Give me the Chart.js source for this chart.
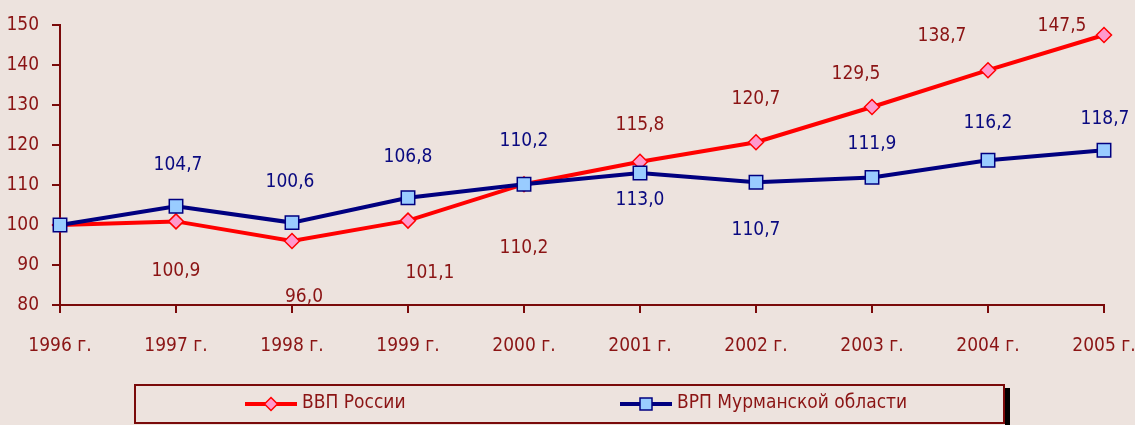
<!DOCTYPE html>
<html>
<head>
<meta charset="utf-8">
<script src="https://cdn.jsdelivr.net/npm/chart.js@4"></script>
<style>
  html, body { margin: 0; padding: 0; background: #ede3de; }
  #wrap { position: relative; width: 1135px; height: 425px; }
</style>
</head>
<body>
<div id="wrap"><canvas id="chart" width="1135" height="425"></canvas></div>
<script>
const years = ['1996 г.', '1997 г.', '1998 г.', '1999 г.', '2000 г.', '2001 г.', '2002 г.', '2003 г.', '2004 г.', '2005 г.'];
const russia = [100, 100.9, 96.0, 101.1, 110.2, 115.8, 120.7, 129.5, 138.7, 147.5];
const murmansk = [100, 104.7, 100.6, 106.8, 110.2, 113.0, 110.7, 111.9, 116.2, 118.7];
const russiaName = 'ВВП России';
const murmanskName = 'ВРП Мурманской области';

// label placement relative to the point (px)
const russiaLabelDx = [0, 0, 12, 22, 0, 0, 0, -16, -46, -42];
const russiaLabelDy = [0, 50, 56, 52, 64, -37, -43, -33, -34, -9];
const murmanskLabelDx = [0, 2, -2, 0, 0, 0, 0, 0, 0, 1];
const murmanskLabelDy = [0, -41, -41, -41, -43, 27, 48, -33, -37, -31];

const FONT = "'Liberation Sans Narrow', 'Arial Narrow', 'DejaVu Sans Condensed', sans-serif";
const DARKRED = '#8b1414';
const AXIS = '#7a0a0a';
const NAVY = '#0a0a80';

const labelsPlugin = {
    id: 'pointLabels',
    afterDatasetsDraw (chart) {
        const ctx = chart.ctx;
        ctx.save();
        ctx.font = '19px ' + FONT;
        ctx.textAlign = 'center';
        ctx.textBaseline = 'middle';
        chart.data.datasets.forEach((ds, di) => {
            const meta = chart.getDatasetMeta(di);
            meta.data.forEach((pt, i) => {
                if (i === 0) return;
                ctx.fillStyle = ds.labelColor;
                ctx.fillText(ds.data[i].toFixed(1).replace('.', ','), pt.x + ds.labelDx[i], pt.y + ds.labelDy[i]);
            });
        });
        ctx.restore();
    }
};

const legendPlugin = {
    id: 'boxLegend',
    afterDraw (chart) {
        const ctx = chart.ctx;
        ctx.save();
        // shadow
        ctx.fillStyle = '#000';
        ctx.fillRect(1005, 388, 5, 40);
        // box
        ctx.strokeStyle = AXIS;
        ctx.lineWidth = 2;
        ctx.strokeRect(135, 385, 869, 38);
        const items = [
            { ds: chart.data.datasets[0], x: 245 },
            { ds: chart.data.datasets[1], x: 620 }
        ];
        const y = 404;
        for (const it of items) {
            ctx.strokeStyle = it.ds.borderColor;
            ctx.lineWidth = 4;
            ctx.beginPath();
            ctx.moveTo(it.x, y);
            ctx.lineTo(it.x + 52, y);
            ctx.stroke();
            ctx.fillStyle = it.ds.pointBackgroundColor;
            ctx.strokeStyle = it.ds.pointBorderColor;
            ctx.lineWidth = 1.5;
            if (it.ds.pointStyle === 'rectRot') {
                ctx.beginPath();
                ctx.moveTo(it.x + 26, y - 6.5);
                ctx.lineTo(it.x + 32.5, y);
                ctx.lineTo(it.x + 26, y + 6.5);
                ctx.lineTo(it.x + 19.5, y);
                ctx.closePath();
                ctx.fill();
                ctx.stroke();
            } else {
                ctx.fillRect(it.x + 20, y - 6, 12, 12);
                ctx.strokeRect(it.x + 20, y - 6, 12, 12);
            }
            ctx.fillStyle = DARKRED;
            ctx.font = '19px ' + FONT;
            ctx.textAlign = 'left';
            ctx.textBaseline = 'middle';
            ctx.fillText(it.ds.label, it.x + 57, y - 1);
        }
        ctx.restore();
    }
};

new Chart(document.getElementById('chart'), {
    type: 'line',
    data: {
        labels: years,
        datasets: [{
            label: russiaName,
            data: russia,
            borderColor: '#ff0000',
            borderWidth: 4,
            pointStyle: 'rectRot',
            pointRadius: 7.5,
            pointBackgroundColor: '#ff99cc',
            pointBorderColor: '#ff0000',
            pointBorderWidth: 1.5,
            labelColor: DARKRED,
            labelDx: russiaLabelDx,
            labelDy: russiaLabelDy,
            order: 1
        }, {
            label: murmanskName,
            data: murmansk,
            borderColor: '#000080',
            borderWidth: 4,
            pointStyle: 'rect',
            pointRadius: 9.5,
            pointBackgroundColor: '#99ccff',
            pointBorderColor: '#000080',
            pointBorderWidth: 1.5,
            labelColor: NAVY,
            labelDx: murmanskLabelDx,
            labelDy: murmanskLabelDy,
            order: 0
        }]
    },
    options: {
        responsive: false,
        animation: false,
        layout: { padding: { left: 0, right: 31, top: 25, bottom: 0 } },
        plugins: { legend: { display: false }, tooltip: { enabled: false } },
        scales: {
            x: {
                offset: false,
                grid: { display: true, drawOnChartArea: false, drawTicks: true, tickLength: 8, color: AXIS, lineWidth: 2 },
                border: { color: AXIS, width: 2 },
                ticks: { color: DARKRED, font: { family: FONT, size: 19 }, padding: 22, maxRotation: 0 },
                afterFit (scale) {
                    scale.height = 120;
                    scale.paddingLeft = 0;
                    scale.paddingRight = 0;
                }
            },
            y: {
                min: 80,
                max: 150,
                grid: { display: true, drawOnChartArea: false, drawTicks: true, tickLength: 8, color: AXIS, lineWidth: 2 },
                border: { color: AXIS, width: 2 },
                ticks: { stepSize: 10, color: DARKRED, font: { family: FONT, size: 19 }, padding: 13 },
                afterFit (scale) { scale.width = 60; }
            }
        }
    },
    plugins: [labelsPlugin, legendPlugin]
});
</script>
</body>
</html>
